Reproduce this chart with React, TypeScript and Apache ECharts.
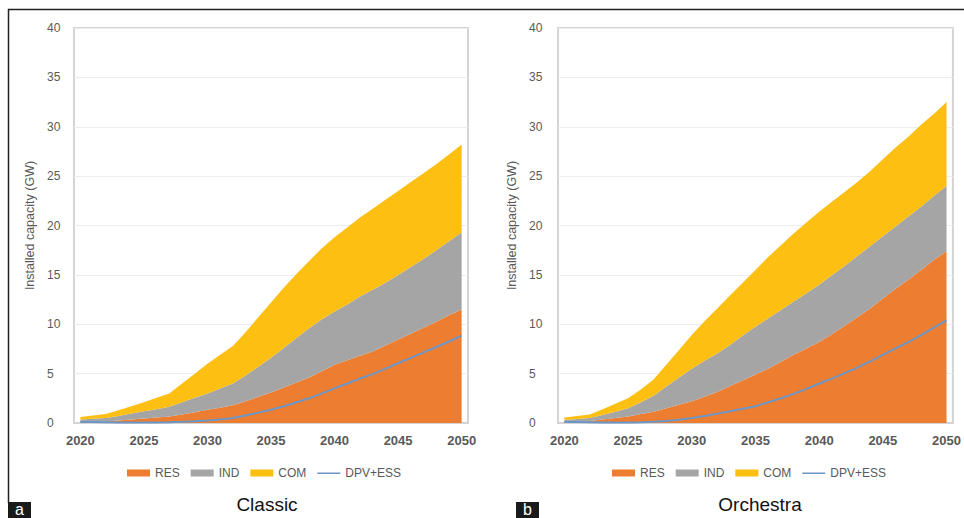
import React, { useEffect, useRef } from "react";
import * as echarts from "echarts";

const years = [
  "2020", "2021", "2022", "2023", "2024", "2025", "2026", "2027", "2028", "2029",
  "2030", "2031", "2032", "2033", "2034", "2035", "2036", "2037", "2038", "2039",
  "2040", "2041", "2042", "2043", "2044", "2045", "2046", "2047", "2048", "2049", "2050",
];

// Classic scenario (GW), stacked layers
const classicRES = [0.1, 0.12, 0.15, 0.25, 0.35, 0.45, 0.55, 0.65, 0.85, 1.1, 1.35, 1.55, 1.8, 2.2, 2.65, 3.1, 3.6, 4.1, 4.6, 5.25, 5.9, 6.35, 6.8, 7.25, 7.85, 8.45, 9.05, 9.65, 10.25, 10.9, 11.5];
const classicIND = [0.25, 0.3, 0.35, 0.47, 0.6, 0.75, 0.85, 1.0, 1.25, 1.45, 1.65, 1.95, 2.2, 2.6, 3.05, 3.5, 4.0, 4.5, 5.0, 5.25, 5.4, 5.65, 6.0, 6.25, 6.35, 6.55, 6.75, 6.95, 7.25, 7.5, 7.8];
const classicCOM = [0.25, 0.33, 0.4, 0.58, 0.75, 0.9, 1.15, 1.35, 1.9, 2.45, 3.0, 3.4, 3.8, 4.4, 5.0, 5.6, 6.1, 6.5, 6.8, 7.2, 7.5, 7.8, 8.0, 8.2, 8.4, 8.5, 8.6, 8.7, 8.7, 8.8, 8.9];
const classicDPV = [0.1, 0.1, 0.08, 0.06, 0.05, 0.05, 0.05, 0.08, 0.12, 0.18, 0.25, 0.35, 0.5, 0.75, 1.05, 1.35, 1.7, 2.1, 2.5, 3.0, 3.5, 4.0, 4.5, 4.95, 5.5, 6.05, 6.6, 7.15, 7.7, 8.25, 8.85];

// Orchestra scenario (GW), stacked layers
const orchRES = [0.1, 0.15, 0.2, 0.35, 0.5, 0.65, 0.9, 1.15, 1.5, 1.85, 2.2, 2.65, 3.15, 3.75, 4.3, 4.9, 5.5, 6.2, 6.9, 7.55, 8.2, 9.0, 9.85, 10.7, 11.6, 12.6, 13.6, 14.5, 15.5, 16.5, 17.4];
const orchIND = [0.2, 0.25, 0.3, 0.45, 0.65, 0.85, 1.2, 1.6, 2.2, 2.75, 3.3, 3.65, 3.9, 4.15, 4.55, 4.85, 5.1, 5.25, 5.4, 5.6, 5.8, 5.95, 6.05, 6.2, 6.3, 6.3, 6.3, 6.4, 6.4, 6.5, 6.6];
const orchCOM = [0.25, 0.3, 0.35, 0.6, 0.8, 1.0, 1.3, 1.65, 2.2, 2.8, 3.4, 4.0, 4.55, 5.0, 5.35, 5.75, 6.2, 6.55, 6.9, 7.15, 7.4, 7.45, 7.5, 7.5, 7.6, 7.8, 8.0, 8.1, 8.3, 8.3, 8.5];
const orchDPV = [0.1, 0.1, 0.08, 0.06, 0.05, 0.05, 0.08, 0.12, 0.2, 0.32, 0.5, 0.7, 0.95, 1.2, 1.45, 1.7, 2.1, 2.5, 2.95, 3.45, 4.0, 4.5, 5.05, 5.6, 6.25, 6.9, 7.55, 8.2, 8.9, 9.65, 10.4];

const yMin = 0;
const yMax = 40;
const yStep = 5;
const yTitle = "Installed capacity (GW)";
const panelTitles = ["Classic", "Orchestra"];
const panelLetters = ["a", "b"];

const COLORS = { RES: "#ED7D31", IND: "#A5A5A5", COM: "#FCBF12", DPV: "#6C96C6" };
const FONT = "Liberation Sans, Arial, sans-serif";
const TXT = "#595959";
const FRAME = "#d4d4d4";
// thin horizontal line icon (tiny corner dots keep the 23x7 bounding box)
const LINE_ICON = "path://M0,0h0.01v0.01h-0.01z M0,3h23v1.6h-23z M22.99,7h0.01v0.01h-0.01z";

function buildOption() {
  const grids = [
    { left: 74, top: 28, width: 394, height: 395 },
    { left: 558, top: 28, width: 395, height: 395 },
  ];
  const labelMargins = [27, 29];
  const nameGaps = [38, 40];
  const xAxis = grids.map((_, i) => ({
    type: "category",
    gridIndex: i,
    data: years,
    boundaryGap: true,
    axisTick: { show: false },
    axisLine: { lineStyle: { color: FRAME, width: 2 } },
    axisLabel: { interval: 4, color: TXT, fontSize: 13, fontWeight: "bold", fontFamily: FONT, margin: 11 },
    splitLine: { show: false },
  }));
  const yAxis = grids.map((_, i) => ({
    type: "value",
    gridIndex: i,
    min: yMin,
    max: yMax,
    interval: yStep,
    axisLine: { show: false },
    axisTick: { show: false },
    axisLabel: { color: TXT, fontSize: 12, fontFamily: FONT, align: "left", margin: labelMargins[i] },
    splitLine: { lineStyle: { color: "#eaeeee", width: 1 } },
    name: yTitle,
    nameLocation: "middle",
    nameGap: nameGaps[i],
    nameTextStyle: { color: TXT, fontSize: 12.5, fontFamily: FONT },
  }));
  const sets = [
    [classicRES, classicIND, classicCOM, classicDPV],
    [orchRES, orchIND, orchCOM, orchDPV],
  ];
  const series: any[] = [];
  sets.forEach((s, i) => {
    const names = ["RES", "IND", "COM"] as const;
    names.forEach((n, k) => {
      series.push({
        name: n,
        type: "line",
        xAxisIndex: i,
        yAxisIndex: i,
        stack: "stack" + i,
        data: s[k],
        symbol: "none",
        smooth: false,
        lineStyle: { width: 0, color: COLORS[n] },
        itemStyle: { color: COLORS[n] },
        areaStyle: { color: COLORS[n], opacity: 1 },
        emphasis: { disabled: true },
        z: 2,
      });
    });
    series.push({
      name: "DPV+ESS",
      type: "line",
      xAxisIndex: i,
      yAxisIndex: i,
      data: s[3],
      symbol: "none",
      lineStyle: { width: 2, color: COLORS.DPV },
      itemStyle: { color: COLORS.DPV },
      emphasis: { disabled: true },
      z: 3,
    });
  });
  const legendData = [
    { name: "RES", icon: "rect" },
    { name: "IND", icon: "rect" },
    { name: "COM", icon: "rect" },
    { name: "DPV+ESS", icon: LINE_ICON, itemStyle: { color: COLORS.DPV } },
  ];
  const legend = [122, 607].map((left) => ({
    left,
    top: 462,
    orient: "horizontal",
    itemWidth: 23,
    itemHeight: 7,
    itemGap: 11,
    selectedMode: false,
    data: legendData,
    textStyle: { color: TXT, fontSize: 12, fontFamily: FONT },
  }));
  const graphic: any[] = [
    { type: "line", shape: { x1: 8, y1: 9.5, x2: 964, y2: 9.5 }, style: { stroke: "#222", lineWidth: 1.5 } },
    { type: "line", shape: { x1: 8.5, y1: 9, x2: 8.5, y2: 503 }, style: { stroke: "#222", lineWidth: 1.5 } },
    { type: "rect", shape: { x: 8, y: 502, width: 23, height: 16 }, style: { fill: "#1a1a1a" } },
    { type: "rect", shape: { x: 516, y: 502, width: 23, height: 16 }, style: { fill: "#1a1a1a" } },
    {
      type: "text", x: 19.5, y: 509.5,
      style: { text: panelLetters[0], fill: "#fff", fontSize: 16, fontFamily: FONT, align: "center", verticalAlign: "middle" },
    },
    {
      type: "text", x: 527.5, y: 509.5,
      style: { text: panelLetters[1], fill: "#fff", fontSize: 16, fontFamily: FONT, align: "center", verticalAlign: "middle" },
    },
    {
      type: "text", x: 267, y: 504,
      style: { text: panelTitles[0], fill: "#111", fontSize: 19, fontFamily: FONT, align: "center", verticalAlign: "middle" },
    },
    {
      type: "text", x: 760, y: 504,
      style: { text: panelTitles[1], fill: "#111", fontSize: 19, fontFamily: FONT, align: "center", verticalAlign: "middle" },
    },
  ];
  return {
    animation: false,
    backgroundColor: "#fff",
    textStyle: { fontFamily: FONT },
    grid: grids.map((g) => ({ ...g, show: true, borderColor: FRAME, borderWidth: 2, backgroundColor: "transparent" })),
    xAxis,
    yAxis,
    legend,
    series,
    graphic,
  };
}

export default function App() {
  const ref = useRef<HTMLDivElement>(null);
  useEffect(() => {
    if (!ref.current) return;
    const chart = echarts.init(ref.current, null, { renderer: "svg" });
    chart.setOption(buildOption() as any);
    return () => chart.dispose();
  }, []);
  return (
    <div
      ref={ref}
      style={{ position: "absolute", left: 0, top: 0, width: 964, height: 518, background: "#fff" }}
    />
  );
}
